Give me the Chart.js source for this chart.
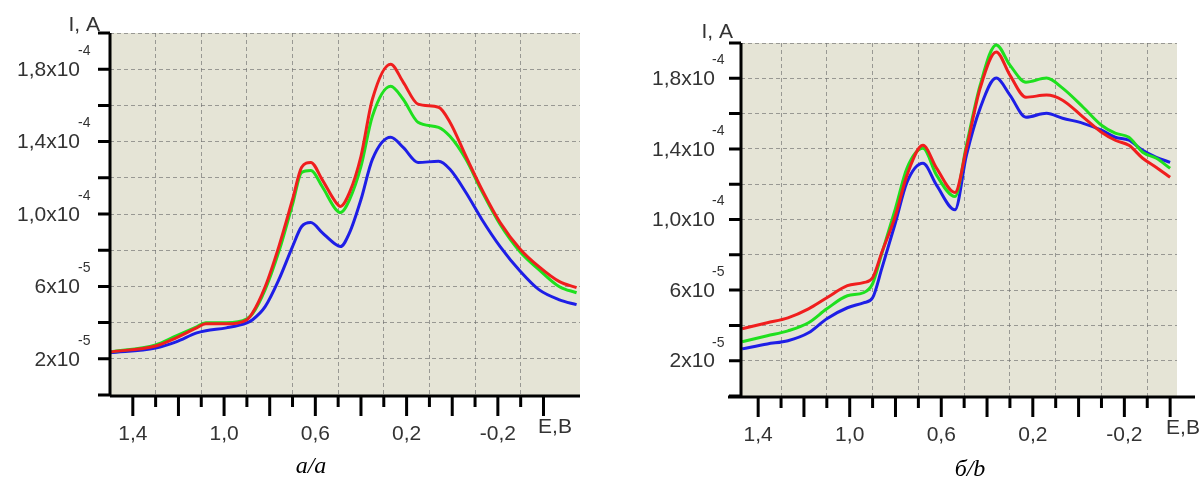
<!DOCTYPE html>
<html>
<head>
<meta charset="utf-8">
<script src="https://cdn.jsdelivr.net/npm/chart.js@4.4.1/dist/chart.umd.min.js"></script>
<style>
  body { margin: 0; background: #fff; }
  #wrap { position: relative; width: 1204px; height: 483px; overflow: hidden; }
  canvas { position: absolute; top: 0; }
  .cap { position: absolute; width: 120px; text-align: center; font: italic 24px "Liberation Serif", "Times New Roman", serif; color: #000; }
</style>
</head>
<body>
<div id="wrap">
  <canvas id="chartA" width="600" height="483" style="left:0"></canvas>
  <canvas id="chartB" width="604" height="483" style="left:600px"></canvas>
  <div class="cap" style="left:251px; top:452px">а/a</div>
  <div class="cap" style="left:910px; top:455px">б/b</div>
</div>
<script>
// ток в единицах 10^-5 А, потенциал Е в В
const eA = [1.5, 1.3, 1.21, 1.12, 1.08, 0.99, 0.9, 0.875, 0.82, 0.76, 0.7, 0.66, 0.62, 0.57, 0.51, 0.49,
            0.45, 0.4, 0.35, 0.27, 0.215, 0.15, 0.06, 0.01, -0.06, -0.13, -0.21, -0.3, -0.38, -0.47, -0.545];
const redA = [2.38, 2.71, 3.16, 3.71, 3.93, 3.93, 4.16, 4.54, 5.98, 8.2, 10.8, 12.58, 12.85, 11.9, 10.64, 10.42,
              11.19, 13.19, 16.34, 18.28, 17.29, 16.07, 15.9, 15.07, 13.19, 11.36, 9.53, 8.03, 7.09, 6.26, 5.93];
const greenA = [2.38, 2.77, 3.27, 3.77, 3.99, 3.99, 4.21, 4.49, 5.82, 7.92, 10.53, 12.3, 12.41, 11.52, 10.25, 10.08,
                10.8, 12.63, 15.4, 17.06, 16.34, 15.07, 14.79, 14.29, 13.02, 11.25, 9.42, 7.87, 6.93, 5.98, 5.65];
const blueA = [2.33, 2.6, 2.94, 3.43, 3.55, 3.71, 3.99, 4.16, 4.88, 6.37, 8.2, 9.31, 9.53, 8.97, 8.31, 8.2,
               8.97, 10.8, 13.02, 14.24, 13.68, 12.85, 12.91, 12.47, 11.19, 9.7, 8.2, 6.81, 5.82, 5.26, 4.99];

const eB = [1.47, 1.36, 1.27, 1.18, 1.1, 1.01, 0.94, 0.9, 0.86, 0.8, 0.75, 0.68, 0.62, 0.54, 0.49, 0.43,
            0.36, 0.3, 0.23, 0.14, 0.07, -0.02, -0.1, -0.16, -0.22, -0.28, -0.34, -0.4];
const redB = [3.81, 4.15, 4.43, 4.94, 5.57, 6.25, 6.42, 6.7, 8.13, 10.23, 12.5, 14.2, 12.9, 11.53, 14.03, 17.44,
              19.49, 18.18, 16.93, 17.05, 16.76, 15.8, 14.94, 14.49, 14.2, 13.47, 12.95, 12.39];
const greenB = [3.07, 3.41, 3.69, 4.15, 4.94, 5.68, 5.85, 6.36, 8.07, 10.63, 12.9, 14.03, 12.5, 11.3, 14.2, 17.61,
                19.89, 18.75, 17.78, 18.01, 17.44, 16.36, 15.34, 14.89, 14.66, 13.81, 13.47, 12.9];
const blueB = [2.67, 2.95, 3.13, 3.58, 4.38, 5.0, 5.28, 5.57, 7.22, 9.83, 12.1, 13.18, 11.93, 10.55, 13.64, 16.31,
               18.01, 17.05, 15.8, 16.02, 15.74, 15.45, 15.06, 14.66, 14.49, 13.92, 13.52, 13.24];

const xTickVals = [1.4, 1.3, 1.2, 1.1, 1.0, 0.9, 0.8, 0.7, 0.6, 0.5, 0.4, 0.3, 0.2, 0.1, 0, -0.1, -0.2, -0.3, -0.4];
const xGridVals = [1.3, 1.1, 0.9, 0.7, 0.5, 0.3, 0.1, -0.1, -0.3];
const xLabelVals = [1.4, 1.0, 0.6, 0.2, -0.2];
const xLabels = ['1,4', '1,0', '0,6', '0,2', '-0,2'];
const yTickVals = [0, 2, 4, 6, 8, 10, 12, 14, 16, 18, 20];
const yLabelVals = [2, 6, 10, 14, 18];
const yLabels = ['2x10', '6x10', '1,0x10', '1,4x10', '1,8x10'];
const yPowers = ['-5', '-5', '-4', '-4', '-4'];

const seriesColors = ['#f01e1e', '#1ee01e', '#1e1ee6'];
const labelFont = '21px "Liberation Sans", Arial, sans-serif';
const inkColor = '#333';
const gridColor = 'rgba(110,110,110,0.65)';

// фон, оси, засечки и подписи рисуем сами, координаты берем из шкал
const axesLook = {
    id: 'axesLook',
    beforeDraw(chart) {
        const { ctx, chartArea: a } = chart;
        ctx.save();
        ctx.fillStyle = '#e5e4d6';
        ctx.fillRect(a.left, a.top, a.right - a.left, a.bottom - a.top);
        ctx.restore();
    },
    afterDraw(chart, args, o) {
        const { ctx, chartArea: a, scales: { x, y } } = chart;
        ctx.save();
        ctx.strokeStyle = '#000';
        ctx.lineWidth = 3;
        ctx.lineCap = 'butt';
        ctx.beginPath();
        ctx.moveTo(a.left, a.top);
        ctx.lineTo(a.left, a.bottom);
        ctx.moveTo(a.left - o.xLineL, a.bottom + 1);
        ctx.lineTo(a.right + o.xLineR, a.bottom + 1);
        yTickVals.forEach(v => {
            const py = y.getPixelForValue(v);
            ctx.moveTo(a.left - 12, py);
            ctx.lineTo(a.left, py);
        });
        xTickVals.forEach((v, i) => {
            const px = x.getPixelForValue(v);
            ctx.moveTo(px, a.bottom + 1);
            ctx.lineTo(px, a.bottom + (i % 2 === 0 ? 21 : 12));
        });
        ctx.stroke();

        ctx.fillStyle = inkColor;
        ctx.font = labelFont;
        ctx.textBaseline = 'middle';
        ctx.textAlign = 'center';
        xLabelVals.forEach((v, i) => {
            ctx.fillText(xLabels[i], x.getPixelForValue(v), a.bottom + 39);
        });
        ctx.fillText('Е,В', a.right + o.eX, a.bottom + 32);

        yLabelVals.forEach((v, i) => {
            const py = y.getPixelForValue(v);
            ctx.font = labelFont;
            ctx.textAlign = 'right';
            ctx.fillText(yLabels[i], a.left + o.yLabX, py + 1);
            ctx.font = '14px "Liberation Sans", Arial, sans-serif';
            ctx.textAlign = 'left';
            ctx.fillText(yPowers[i], a.left + o.supX, py - 18);
        });

        ctx.font = labelFont;
        ctx.textAlign = 'right';
        ctx.fillText('I, A', a.left + o.titleX, a.top + o.titleY);
        ctx.restore();
    }
};

function makeChart(id, e, red, green, blue, xMin, xMax, look) {
    const pts = arr => e.map((v, i) => ({ x: v, y: arr[i] }));
    return new Chart(document.getElementById(id), {
        type: 'line',
        data: {
            datasets: [red, green, blue].map((s, i) => ({
                data: pts(s),
                borderColor: seriesColors[i],
                borderWidth: 3,
                pointRadius: 0,
                cubicInterpolationMode: 'monotone',
                fill: false
            }))
        },
        options: {
            responsive: false,
            animation: false,
            devicePixelRatio: 1,
            layout: { padding: look.pad },
            plugins: {
                legend: { display: false },
                tooltip: { enabled: false },
                axesLook: look
            },
            scales: {
                x: {
                    type: 'linear',
                    reverse: true,
                    min: xMin,
                    max: xMax,
                    afterBuildTicks: s => { s.ticks = xGridVals.map(v => ({ value: v })); },
                    ticks: { display: false },
                    grid: { color: gridColor, drawTicks: false },
                    border: { display: false, dash: [4, 3] }
                },
                y: {
                    min: 0,
                    max: 20,
                    ticks: { display: false, stepSize: 2 },
                    grid: { color: gridColor, drawTicks: false },
                    border: { display: false, dash: [4, 3] }
                }
            }
        },
        plugins: [axesLook]
    });
}

makeChart('chartA', eA, redA, greenA, blueA, -0.56, 1.5, {
    pad: { left: 110, right: 20, top: 33, bottom: 88 },
    xLineL: 0, xLineR: 0, eX: -25, titleX: -10, titleY: -8, yLabX: -30, supX: -32
});
makeChart('chartB', eB, redB, greenB, blueB, -0.43, 1.475, {
    pad: { left: 141, right: 27, top: 43, bottom: 87 },
    xLineL: 13, xLineR: 18, eX: 6, titleX: -8, titleY: -11, yLabX: -26, supX: -29
});
</script>
</body>
</html>
